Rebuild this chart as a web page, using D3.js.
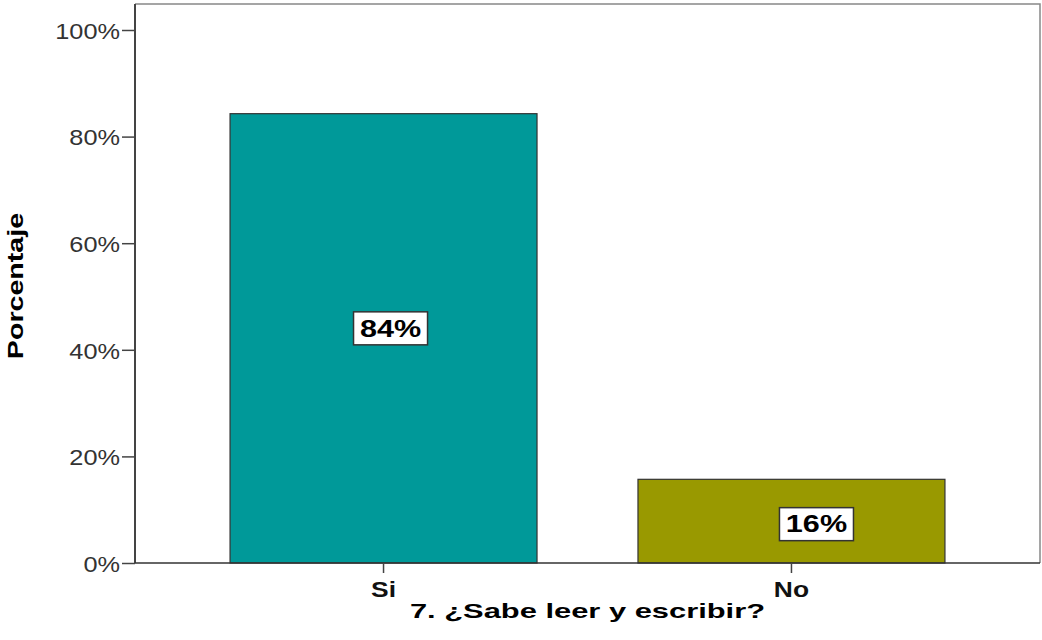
<!DOCTYPE html>
<html><head><meta charset="utf-8">
<script src="https://cdn.jsdelivr.net/npm/d3@7"></script>
<style>body{margin:0;background:#fff}svg{display:block}</style>
</head><body>
<svg id="c" width="1042" height="640"></svg>
<script>
const categories = ["Si", "No"];
const values = [84.3, 15.7];
const valueLabels = ["84%", "16%"];
const colors = ["#009999", "#999900"];
const yTicks = [0, 20, 40, 60, 80, 100];
const xTitle = "7. ¿Sabe leer y escribir?";
const yTitle = "Porcentaje";

const FONT = "Liberation Sans, Arial, sans-serif";
function stretch(sel, factor) {
  sel.each(function() {
    const w = this.getComputedTextLength();
    d3.select(this).attr("textLength", w * factor).attr("lengthAdjust", "spacingAndGlyphs");
  });
}

const svg = d3.select("#c");
const m = {l: 135, r: 1040, t: 4, b: 563};
const x = d3.scaleBand().domain(categories).range([m.l, m.r]).paddingInner(0.2475).paddingOuter(0.233);
const y = d3.scaleLinear().domain([0, 100]).range([m.b, 30]);

// frame top/right
svg.append("path").attr("d", `M${m.l},${m.t}H${m.r}V${m.b}`).attr("fill","none").attr("stroke","#888").attr("stroke-width",1.5);

// bars
svg.selectAll("rect.bar").data(categories).join("rect").attr("class","bar")
  .attr("x", d => x(d)).attr("width", x.bandwidth())
  .attr("y", (d,i) => y(values[i])).attr("height", (d,i) => y(0) - y(values[i]))
  .attr("fill", (d,i) => colors[i]).attr("stroke", "#333").attr("stroke-width", 1.2);

// axes
const yAxis = d3.axisLeft(y).tickValues(yTicks).tickFormat(d => d + "%").tickSize(13).tickPadding(2);
const gy = svg.append("g").attr("transform", `translate(${m.l},0)`).call(yAxis);
gy.select(".domain").attr("d", `M0,${m.t}V${m.b}`).attr("stroke","#444").attr("stroke-width",2);
gy.selectAll(".tick line").attr("stroke","#444").attr("stroke-width",1.5);
gy.selectAll(".tick text").attr("fill","#333").style("font-family",FONT).style("font-size","22px").attr("dy","0.38em");
stretch(gy.selectAll(".tick text"), 1.15);

const xAxis = d3.axisBottom(x).tickSize(10).tickPadding(4);
const gx = svg.append("g").attr("transform", `translate(0,${m.b})`).call(xAxis);
gx.select(".domain").attr("d", `M${m.l},0H${m.r}`).attr("stroke","#333").attr("stroke-width",1.5);
gx.selectAll(".tick line").attr("stroke","#444").attr("stroke-width",1.5);
gx.selectAll(".tick text").attr("fill","#111").style("font-family",FONT).style("font-size","22px").style("font-weight","bold").attr("y", 34).attr("dy", 0);
stretch(gx.selectAll(".tick text"), 1.2);

// value labels
const offs = [[7,-10],[25,3]];
const lg = svg.selectAll("g.lbl").data(categories).join("g").attr("class","lbl")
  .attr("transform", (d,i) => `translate(${x(d) + x.bandwidth()/2 + offs[i][0]},${(y(values[i]) + y(0))/2 + offs[i][1]})`);
lg.append("rect").attr("x",-37).attr("y",-16.5).attr("width",74).attr("height",33)
  .attr("fill","#fff").attr("stroke","#333").attr("stroke-width",1.5);
const vt = lg.append("text").text((d,i) => valueLabels[i]).attr("text-anchor","middle").attr("x", 0).attr("dy","0.36em")
  .style("font-family",FONT).style("font-size","23px").style("font-weight","bold").attr("fill","#000");
stretch(vt, 1.33);

// titles
const xt = svg.append("text").attr("x", (m.l+m.r)/2).attr("y", 618).attr("text-anchor","middle")
  .style("font-family",FONT).style("font-size","21px").style("font-weight","bold").attr("fill","#000").text(xTitle);
stretch(xt, 1.47);
const yt = svg.append("text").attr("transform","translate(23,286) rotate(-90)").attr("text-anchor","middle")
  .style("font-family",FONT).style("font-size","22px").style("font-weight","bold").attr("fill","#000").text(yTitle);
stretch(yt, 1.3);
</script>
</body></html>
